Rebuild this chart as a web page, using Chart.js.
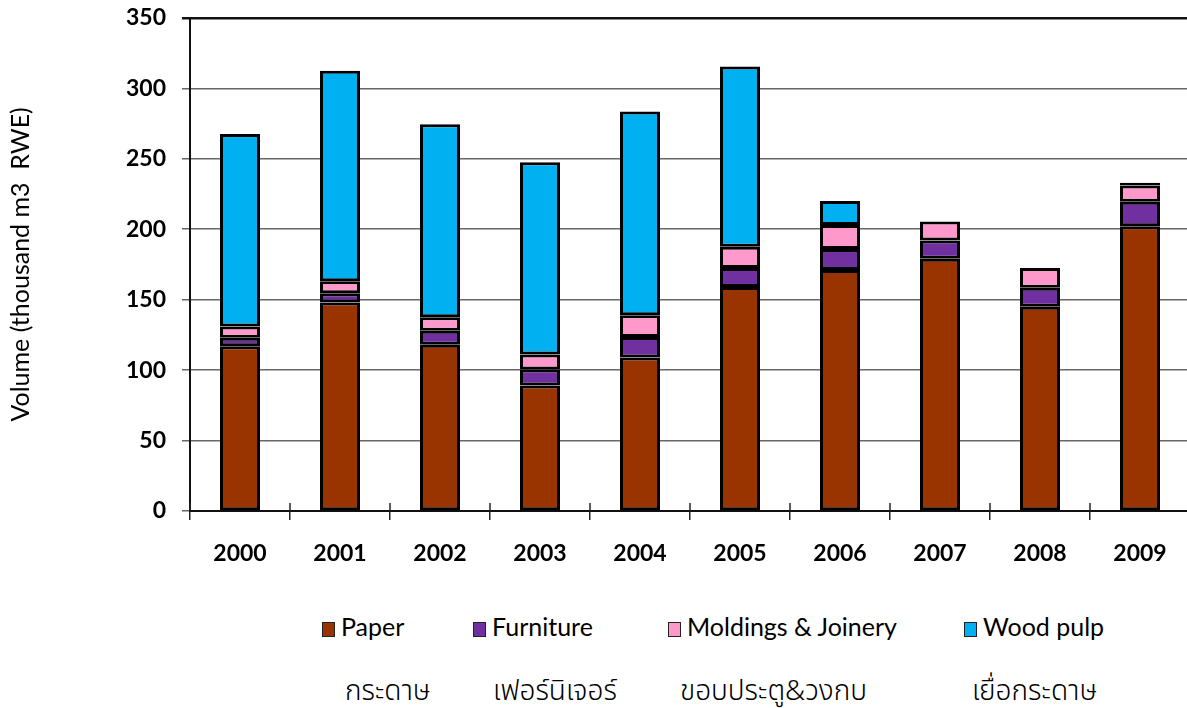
<!DOCTYPE html>
<html>
<head>
<meta charset="utf-8">
<script src="https://cdn.jsdelivr.net/npm/chart.js@4"></script>
<style>
  html, body { margin: 0; padding: 0; background: #fff; overflow: hidden; }
  #wrap { position: relative; width: 1190px; height: 708px; }
  #box { position: absolute; left: 0; top: -12px; width: 1190px; height: 602px; }
  .leg { position: absolute; top: 611px; font: 25px Lato, "Open Sans", sans-serif; color: #000; white-space: nowrap; }
  .leg i { display: inline-block; width: 11px; height: 13px; border: 1.5px solid #222; margin-right: 6px; vertical-align: -1px; }
  .th { position: absolute; top: 670px; font: 28px "Noto Sans Thai", "Loma", "Garuda", "DejaVu Sans", sans-serif; font-weight: 300; color: #000; white-space: nowrap; }
</style>
</head>
<body>
<div id="wrap">
  <div id="box"><canvas id="chart"></canvas></div>
  <div id="legend"></div>
  <div id="thai"></div>
</div>
<script>
// values (thousand m3 RWE)
const YEARS      = ['2000','2001','2002','2003','2004','2005','2006','2007','2008','2009'];
const PAPER      = [117, 148, 118, 89, 109, 159, 171, 179, 145, 202];
const FURNITURE  = [6, 6.5, 10, 11.5, 14.5, 13.5, 15, 13, 13.5, 17.5];
const MOLDINGS   = [8, 8.5, 9.5, 10.5, 15.5, 15, 17, 13.5, 14, 11.5];
const WOOD_PULP  = [136.5, 149.5, 137, 136.5, 144.5, 128, 17, null, null, 2];
const Y_TICKS    = [0, 50, 100, 150, 200, 250, 300, 350];

const SERIES = [
  { label: 'Paper',              thai: 'กระดาษ',        data: PAPER,     color: '#993300' },
  { label: 'Furniture',          thai: 'เฟอร์นิเจอร์',    data: FURNITURE, color: '#7030a0' },
  { label: 'Moldings & Joinery', thai: 'ขอบประตู&วงกบ',  data: MOLDINGS,  color: '#ff99cc' },
  { label: 'Wood pulp',          thai: 'เยื่อกระดาษ',     data: WOOD_PULP, color: '#00b0f0' },
];

// legend + thai captions laid out as in the picture
const LEG_X  = [322, 473, 668, 964];
const THAI_X = [345, 493, 680, 972];
const legEl = document.getElementById('legend');
const thEl  = document.getElementById('thai');
SERIES.forEach((s, i) => {
  const d = document.createElement('div');
  d.className = 'leg';
  d.style.left = LEG_X[i] + 'px';
  d.innerHTML = `<i style="background:${s.color}"></i>${s.label}`;
  legEl.appendChild(d);
  const t = document.createElement('div');
  t.className = 'th';
  t.style.left = THAI_X[i] + 'px';
  t.textContent = s.thai;
  thEl.appendChild(t);
});

const tickFont = { family: 'Lato, "Open Sans", sans-serif', size: 23, weight: 'bold' };

// small x ticks also poke up above the axis line, like the original
const xTicksUp = {
  id: 'xTicksUp',
  afterDraw(chart) {
    const x = chart.scales.x, ctx = chart.ctx, y0 = chart.chartArea.bottom;
    ctx.save();
    ctx.strokeStyle = '#222';
    ctx.lineWidth = 1.5;
    for (let i = 0; i <= YEARS.length; i++) {
      const px = x.getPixelForTick(0) + (i - 0.5) * (x.getPixelForTick(1) - x.getPixelForTick(0));
      ctx.beginPath();
      ctx.moveTo(px, y0);
      ctx.lineTo(px, y0 - 8);
      ctx.stroke();
    }
    ctx.restore();
  }
};

new Chart(document.getElementById('chart'), {
  type: 'bar',
  data: {
    labels: YEARS,
    datasets: SERIES.map(s => ({
      label: s.label,
      data: s.data,
      backgroundColor: s.color,
      borderColor: '#000',
      borderWidth: 3,
      borderSkipped: false,
      barPercentage: 0.4,
      categoryPercentage: 1,
    }))
  },
  plugins: [xTicksUp],
  options: {
    responsive: true,
    maintainAspectRatio: false,
    animation: false,
    layout: { padding: { top: 4, right: 0, left: 0, bottom: 0 } },
    plugins: { legend: { display: false }, tooltip: { enabled: false } },
    scales: {
      x: {
        stacked: true,
        grid: { offset: true, drawOnChartArea: false, color: '#222', lineWidth: 1.5, tickLength: 9 },
        border: { color: '#111', width: 2 },
        ticks: { color: '#000', font: tickFont, padding: 20 },
        afterFit: s => { s.height = 79; }
      },
      y: {
        stacked: true,
        min: 0, max: 350,
        afterBuildTicks: s => { s.ticks = Y_TICKS.map(v => ({ value: v })); },
        grid: {
          color: c => c.tick && c.tick.value === 350 ? '#111' : '#666',
          lineWidth: c => c.tick && c.tick.value === 350 ? 2.5 : 1.5,
          tickLength: 8
        },
        border: { color: '#111', width: 2 },
        ticks: { color: '#000', font: tickFont, padding: 16 },
        title: {
          display: true,
          text: 'Volume (thousand m3  RWE)',
          color: '#000',
          font: { family: 'Lato, "Open Sans", sans-serif', size: 25 },
          padding: { top: 6, bottom: 0 }
        },
        afterFit: s => { s.width = 190; }
      }
    }
  }
});
</script>
</body>
</html>
